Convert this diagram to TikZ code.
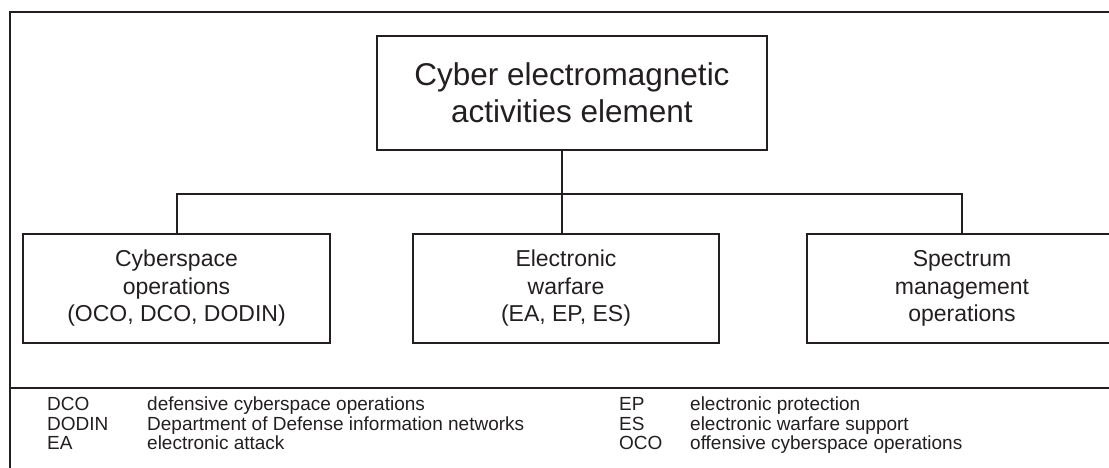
\documentclass[tikz,border=0pt]{standalone}
\usepackage{fontspec}
\setmainfont{Liberation Sans}
\definecolor{ink}{RGB}{35,31,32}
\begin{document}
\begin{tikzpicture}[x=1pt,y=-1pt,
  frame/.style={draw=ink,line width=2pt},
  box/.style={draw=ink,line width=2pt,align=center,inner sep=0pt,text=ink,
    minimum height=109pt,font=\fontsize{23}{27.5}\selectfont},
  topbox/.style={box,minimum width=390pt,minimum height=114pt,font=\fontsize{31.5}{37}\selectfont},
  conn/.style={draw=ink,line width=2pt},
  abbr/.style={anchor=base west,inner sep=0pt,text=ink,font=\fontsize{19}{20}\selectfont}]
\useasboundingbox (0,0) rectangle (1109,468);
\clip (0,0) rectangle (1109,468);
% outer frame
\draw[frame] (1115,12) -- (10,12) -- (10,470);
\draw[frame] (10,388) -- (1115,388);
% boxes
\node[topbox] (top) at (572,93) {Cyber electromagnetic\\activities element};
\node[box,minimum width=307pt] (cyb) at (176.5,288.5) {Cyberspace\\operations\\(OCO, DCO, DODIN)};
\node[box,minimum width=306pt] (ew) at (566,288.5) {Electronic\\warfare\\(EA, EP, ES)};
\node[box,minimum width=310pt] (smo) at (962,288.5) {Spectrum\\management\\operations};
% connectors
\coordinate (bus) at (562,194);
\draw[conn] (top.south -| bus) -- (bus);
\draw[conn] (cyb.north) -- (cyb.north |- bus) -- (smo.north |- bus) -- (smo.north);
\draw[conn] (bus) -- (ew.north -| bus);
% legend
\node[abbr] (a1) at (47,410) {DCO};
\node[abbr] (d1) at (147,410) {defensive cyberspace operations};
\node[abbr] (a2) at (47,430) {DODIN};
\node[abbr] (d2) at (147,430) {Department of Defense information networks};
\node[abbr] (a3) at (47,449) {EA};
\node[abbr] (d3) at (147,449) {electronic attack};
\node[abbr] (a4) at (619,410) {EP};
\node[abbr] (d4) at (690,410) {electronic protection};
\node[abbr] (a5) at (619,430) {ES};
\node[abbr] (d5) at (690,430) {electronic warfare support};
\node[abbr] (a6) at (619,449) {OCO};
\node[abbr] (d6) at (690,449) {offensive cyberspace operations};
\end{tikzpicture}
\end{document}
